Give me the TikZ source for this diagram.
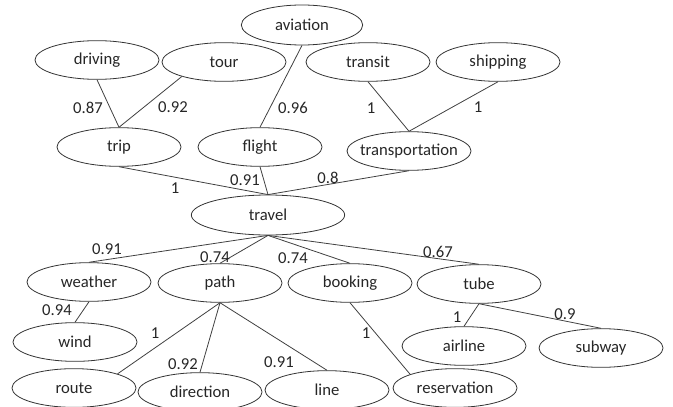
\documentclass[tikz,border=0pt]{standalone}
\usepackage{fontspec}
\setmainfont{Carlito}
\usetikzlibrary{shapes.geometric}

\begin{document}
\begin{tikzpicture}[x=0.75pt, y=-0.75pt]
  \tikzstyle{mynode}=[draw=black!80, ellipse, line width=0.6pt, inner sep=0pt, minimum width=93pt, minimum height=29pt, font=\fontsize{12.5}{14}\selectfont, text=black!85]
  \tikzstyle{weight}=[font=\fontsize{12.5}{14}\selectfont, text=black!85, inner sep=1pt]
  \tikzstyle{link}=[draw=black!75, line width=0.6pt]

  \useasboundingbox (0,0) rectangle (673,406);

  \node[mynode, minimum width=91pt, minimum height=30pt] (Aviation) at (302, 25) {aviation};

  \node[mynode] (Driving) at (97, 60) {driving};
  \node[mynode] (Tour) at (224, 62) {tour};
  \node[mynode] (Transit) at (368, 62) {transit};
  \node[mynode] (Shipping) at (498, 62) {shipping};

  \node[mynode] (Trip) at (119, 147) {trip};
  \node[mynode] (Flight) at (260, 147) {flight};
  \node[mynode, inner xsep=-6pt] (Transportation) at (409, 151) {transportation};

  \node[mynode, minimum width=115pt, minimum height=30pt] (Travel) at (268, 215) {travel};

  \node[mynode] (Weather) at (89, 282) {weather};
  \node[mynode] (Path) at (220, 283) {path};
  \node[mynode] (Booking) at (350, 283) {booking};
  \node[mynode] (Tube) at (479, 284) {tube};

  \node[mynode] (Wind) at (75, 342) {wind};
  \node[mynode] (Airline) at (464, 346) {airline};
  \node[mynode] (Subway) at (601, 348) {subway};

  \node[mynode] (Route) at (74, 388) {route};
  \node[mynode] (Direction) at (200, 392) {direction};
  \node[mynode] (Line) at (327, 390) {line};
  \node[mynode] (Reservation) at (455, 388) {reservation};

  \draw[link] (Driving.south) -- (Trip.north);
  \draw[link] (Tour.199) -- (Trip.north);
  \draw[link] (Aviation.south) -- (Flight.north);
  \draw[link] (Transit.south) -- (Transportation.north);
  \draw[link] (Shipping.south) -- (Transportation.north);

  \draw[link] (Trip.south) -- (Travel.north);
  \draw[link] (Flight.south) -- (Travel.north);
  \draw[link] (Transportation.south) -- (Travel.north);

  \draw[link] (Travel.south) -- (Weather.north);
  \draw[link] (Travel.south) -- (Path.north);
  \draw[link] (Travel.south) -- (Booking.north);
  \draw[link] (Travel.south) -- (Tube.north);

  \draw[link] (Weather.south) -- (Wind.north);
  \draw[link] (Path.south) -- (Route.18);
  \draw[link] (Path.south) -- (Direction.north);
  \draw[link] (Path.south) -- (Line.north);
  \draw[link] (Booking.south) -- (Reservation.163);
  \draw[link] (Tube.south) -- (Airline.north);
  \draw[link] (Tube.south) -- (Subway.north);

  \node[weight] (wDriving) at (88, 108) {0.87};
  \node[weight] (wTour) at (173, 107) {0.92};
  \node[weight] (wAviation) at (293, 108) {0.96};
  \node[weight] (wTransit) at (371, 108) {1};
  \node[weight] (wShipping) at (478, 107) {1};

  \node[weight] (wTrip) at (175, 188) {1};
  \node[weight] (wFlight) at (245, 180) {0.91};
  \node[weight] (wTransportation) at (328, 178) {0.8};

  \node[weight] (wWeather) at (107, 249) {0.91};
  \node[weight] (wPath) at (215, 257) {0.74};
  \node[weight] (wBooking) at (293, 258) {0.74};
  \node[weight] (wTube) at (438, 252) {0.67};

  \node[weight] (wWind) at (57, 310) {0.94};
  \node[weight] (wRoute) at (155, 333) {1};
  \node[weight] (wDirection) at (183, 364) {0.92};
  \node[weight] (wLine) at (279, 362) {0.91};
  \node[weight] (wReservation) at (366, 333) {1};
  \node[weight] (wAirline) at (457, 317) {1};
  \node[weight] (wSubway) at (565, 314) {0.9};

\end{tikzpicture}
\end{document}
